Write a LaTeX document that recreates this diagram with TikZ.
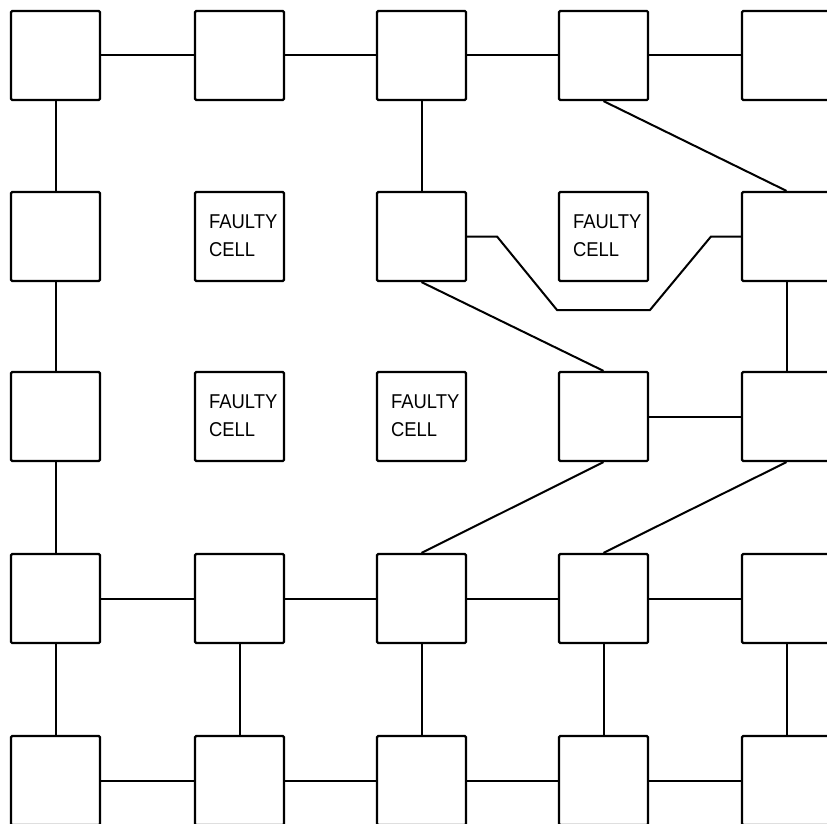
\documentclass[tikz,border=0pt]{standalone}
\usepackage{fontspec}
\newfontfamily\cellfont[FakeStretch=0.92]{Liberation Sans}
\begin{document}
\begin{tikzpicture}[x=1pt,y=-1pt,
  cell/.style={draw,line width=2.2pt,rounded corners=1.2pt,rectangle,
    minimum width=89pt,minimum height=89pt,inner sep=0pt},
  link/.style={line width=2pt},
  celltext/.style={anchor=base west,inner sep=0pt,font=\cellfont\fontsize{20}{24}\selectfont}]
\useasboundingbox (0,0) rectangle (827,824);
\clip (0,0) rectangle (827,824);

% cell centres, row r / column c
\foreach \r/\y in {1/55.5,2/236.5,3/416.5,4/598.5,5/780.5}{
  \foreach \c/\x in {1/55.5,2/239.5,3/421.5,4/603.5,5/786.5}{
    \coordinate (p\r\c) at (\x,\y);
  }
}
% working cells
\foreach \r/\c in {1/1,1/2,1/3,1/4,1/5, 2/1,2/3,2/5, 3/1,3/4,3/5,
                   4/1,4/2,4/3,4/4,4/5, 5/1,5/2,5/3,5/4,5/5}{
  \node[cell] (c\r\c) at (p\r\c) {};
}

% faulty cells
\foreach \r/\c in {2/2,2/4,3/2,3/3}{
  \node[cell] (c\r\c) at (p\r\c) {};
  \node[celltext] (fa\r\c) at ([xshift=15pt,yshift=-37.5pt]c\r\c.north west) {FAULTY};
  \node[celltext] (fb\r\c) at ([xshift=15pt,yshift=-66pt]c\r\c.north west) {CELL};
}

% mesh links
\draw[link] (c11) -- (c12) (c12) -- (c13) (c13) -- (c14) (c14) -- (c15);
\draw[link] (c11) -- (c21) (c21) -- (c31) (c31) -- (c41) (c41) -- (c51);
\draw[link] (c13) -- (c23);
\draw[link] (c25) -- (c35);
\draw[link] (c34) -- (c35);
\draw[link] (c41) -- (c42) (c42) -- (c43) (c43) -- (c44) (c44) -- (c45);
\draw[link] (c51) -- (c52) (c52) -- (c53) (c53) -- (c54) (c54) -- (c55);
\draw[link] (c42) -- (c52) (c43) -- (c53) (c44) -- (c54) (c45) -- (c55);

% rerouted links around faulty cells
\draw[link] (c14.south) -- (c25.north);
\draw[link] (c23.south) -- (c34.north);
\draw[link] (c34.south) -- (c43.north);
\draw[link] (c35.south) -- (c44.north);

\coordinate (d1) at (497,236.5);
\coordinate (d2) at (557,310);
\coordinate (d3) at (650,310);
\coordinate (d4) at (711,236.5);
\draw[link] (c23.east) -- (d1) -- (d2) -- (d3) -- (d4) -- (c25.west);
\end{tikzpicture}
\end{document}
